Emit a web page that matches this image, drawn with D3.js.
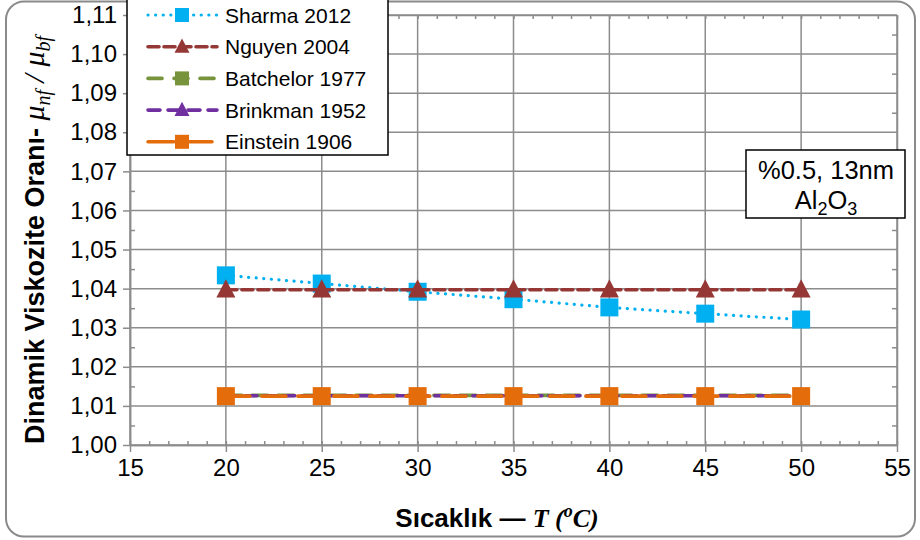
<!DOCTYPE html>
<html>
<head>
<meta charset="utf-8">
<script src="https://cdn.jsdelivr.net/npm/d3@7"></script>
<style>
  html, body { margin: 0; padding: 0; background: #fff; }
  svg { display: block; }
</style>
</head>
<body>
<svg id="chart" width="920" height="540"></svg>
<script>
// ---- data ----
const temps = [20, 25, 30, 35, 40, 45, 50];
const sharma2012 = [1.0434, 1.0413, 1.0392, 1.0373, 1.0352, 1.0336, 1.0321];
const nguyen2004 = [1.0397, 1.0397, 1.0397, 1.0397, 1.0397, 1.0397, 1.0397];
const batchelor1977 = [1.0127, 1.0127, 1.0127, 1.0127, 1.0127, 1.0127, 1.0127];
const brinkman1952 = [1.0126, 1.0126, 1.0126, 1.0126, 1.0126, 1.0126, 1.0126];
const einstein1906 = [1.0125, 1.0125, 1.0125, 1.0125, 1.0125, 1.0125, 1.0125];
const seriesNames = ["Sharma 2012", "Nguyen 2004", "Batchelor 1977", "Brinkman 1952", "Einstein 1906"];
const xTicks = [15, 20, 25, 30, 35, 40, 45, 50, 55];
const yTicks = [1.00, 1.01, 1.02, 1.03, 1.04, 1.05, 1.06, 1.07, 1.08, 1.09, 1.10, 1.11];
const annotationLine1 = "%0.5, 13nm";

// ---- setup ----
const svg = d3.select("#chart");
const L = 130, R = 897, T = 15, B = 445;
const x = d3.scaleLinear().domain([15, 55]).range([L, R]);
const y = d3.scaleLinear().domain([1.00, 1.11]).range([B, T]);
const grid = "#8c8c8c";
const sans = "'Liberation Sans', Arial, sans-serif";
const serif = "'Liberation Serif', 'DejaVu Serif', serif";

// chart area border
svg.append("rect").attr("x", 6).attr("y", 1.5).attr("width", 909).attr("height", 535)
  .attr("rx", 18).attr("fill", "#fff").attr("stroke", "#8a8a8a").attr("stroke-width", 2);

// gridlines
const g = svg.append("g");
g.selectAll("line.h").data(yTicks).join("line")
  .attr("x1", L).attr("x2", R).attr("y1", d => y(d)).attr("y2", d => y(d))
  .attr("stroke", grid).attr("stroke-width", 1.5);
g.selectAll("line.v").data(xTicks).join("line")
  .attr("y1", T).attr("y2", B).attr("x1", d => x(d)).attr("x2", d => x(d))
  .attr("stroke", grid).attr("stroke-width", 1.5);

// axes via d3
const xMinor = d3.range(15, 55.01, 1);
const yMinor = d3.range(1.005, 1.11, 0.01);
function styleAxis(sel) {
  sel.selectAll("path,line").attr("stroke", grid).attr("stroke-width", 1.5);
  sel.selectAll("text").attr("font-family", sans).attr("font-size", 24).attr("fill", "#000");
}
svg.append("g").attr("transform", `translate(0,${B})`)
  .call(d3.axisBottom(x).tickValues(xTicks).tickSize(7).tickSizeOuter(0).tickPadding(7).tickFormat(d3.format("d")))
  .call(styleAxis);
svg.append("g").attr("transform", `translate(0,${B})`)
  .call(d3.axisTop(x).tickValues(xMinor).tickSize(4).tickSizeOuter(0).tickFormat(""))
  .call(styleAxis);
svg.append("g").attr("transform", `translate(0,${T})`)
  .call(d3.axisBottom(x).tickValues(xMinor).tickSize(4).tickSizeOuter(0).tickFormat(""))
  .call(styleAxis);
svg.append("g").attr("transform", `translate(${L},0)`)
  .call(d3.axisLeft(y).tickValues(yTicks).tickSize(7).tickSizeOuter(0).tickPadding(6)
    .tickFormat(d => d3.format(".2f")(d).replace(".", ",")))
  .call(styleAxis);
svg.append("g").attr("transform", `translate(${L},0)`)
  .call(d3.axisRight(y).tickValues(yMinor).tickSize(5).tickSizeOuter(0).tickFormat(""))
  .call(styleAxis);
svg.append("g").attr("transform", `translate(${R},0)`)
  .call(d3.axisLeft(y).tickValues(yMinor).tickSize(5).tickSizeOuter(0).tickFormat(""))
  .call(styleAxis);

// ---- series ----
const styles = [
  { data: sharma2012, color: "#00B0F0", dash: "0.1,7.5", width: 3.2, cap: "round", marker: "square", size: 18 },
  { data: nguyen2004, color: "#953735", dash: "11,5", width: 3.6, cap: "round", marker: "triangle", size: 19 },
  { data: batchelor1977, color: "#77933C", dash: "16,10", width: 3.6, cap: "round", marker: "square", size: 14 },
  { data: brinkman1952, color: "#7030A0", dash: "12,7", width: 3.6, cap: "round", marker: "triangle", size: 15 },
  { data: einstein1906, color: "#E46C0A", dash: "24,12", width: 3.6, cap: "round", marker: "square", size: 18 }
];
const line = d3.line().x((d, i) => x(temps[i])).y(d => y(d));
function drawMarker(sel, type, size, color) {
  if (type === "square") {
    sel.append("rect").attr("x", -size / 2).attr("y", -size / 2).attr("width", size).attr("height", size)
      .attr("fill", color);
  } else {
    const h = size * 0.95;
    sel.append("path").attr("d", `M0,${-h * 0.58} L${size / 2},${h * 0.42} L${-size / 2},${h * 0.42} Z`)
      .attr("fill", color);
  }
}
styles.forEach(s => {
  svg.append("path").datum(s.data).attr("d", line).attr("fill", "none")
    .attr("stroke", s.color).attr("stroke-width", s.width).attr("stroke-dasharray", s.dash)
    .attr("stroke-linecap", s.cap);
  s.data.forEach((v, i) => {
    const m = svg.append("g").attr("transform", `translate(${x(temps[i])},${y(v)})`);
    drawMarker(m, s.marker, s.size, s.color);
  });
});

// ---- legend ----
const lg = svg.append("g");
lg.append("rect").attr("x", 127).attr("y", -2).attr("width", 261).attr("height", 157)
  .attr("fill", "#fff").attr("stroke", "#000").attr("stroke-width", 1.5);
const legendDash = ["0.1,7.5", "11,5", "14,12", "12,8", "26,12"];
styles.forEach((s, i) => {
  const cy = 15 + i * 31.7;
  lg.append("line").attr("x1", 148).attr("x2", 217).attr("y1", cy).attr("y2", cy)
    .attr("stroke", s.color).attr("stroke-width", s.width).attr("stroke-dasharray", legendDash[i])
    .attr("stroke-linecap", s.cap);
  const m = lg.append("g").attr("transform", `translate(182,${cy})`);
  drawMarker(m, s.marker, s.marker === "square" ? 14 : 15, s.color);
  lg.append("text").attr("x", 225).attr("y", cy + 7.5).attr("font-family", sans).attr("font-size", 21)
    .attr("fill", "#000").text(seriesNames[i]);
});

// ---- annotation box ----
const ab = svg.append("g");
ab.append("rect").attr("x", 746).attr("y", 150).attr("width", 159).attr("height", 68)
  .attr("fill", "#fff").attr("stroke", "#000").attr("stroke-width", 1.5);
ab.append("text").attr("x", 826).attr("y", 179).attr("text-anchor", "middle")
  .attr("font-family", sans).attr("font-size", 25.5).text(annotationLine1);
const al = ab.append("text").attr("x", 826).attr("y", 209).attr("text-anchor", "middle")
  .attr("font-family", sans).attr("font-size", 25.5);
al.append("tspan").text("Al");
al.append("tspan").attr("dy", 6).attr("font-size", 18).text("2");
al.append("tspan").attr("dy", -6).text("O");
al.append("tspan").attr("dy", 6).attr("font-size", 18).text("3");

// ---- axis titles ----
const xt = svg.append("text").attr("x", 497).attr("y", 527).attr("text-anchor", "middle")
  .attr("font-family", sans).attr("font-size", 26).attr("font-weight", "bold").attr("fill", "#000");
xt.append("tspan").text("Sıcaklık — ");
xt.append("tspan").attr("font-family", serif).attr("font-style", "italic").text("T (");
xt.append("tspan").attr("font-family", serif).attr("font-style", "italic").attr("font-size", 18).attr("dy", -10).text("o");
xt.append("tspan").attr("font-family", serif).attr("font-style", "italic").attr("dy", 10).text("C)");

const yt = svg.append("text").attr("transform", "translate(44,240) rotate(-90)").attr("text-anchor", "middle")
  .attr("font-family", sans).attr("font-size", 27).attr("font-weight", "bold").attr("fill", "#000");
yt.append("tspan").text("Dinamik Viskozite Oranı- ");
const mu = (sel, txt, fs, dy) => sel.append("tspan").attr("font-family", serif).attr("font-style", "italic")
  .attr("font-weight", "normal").attr("font-size", fs).attr("dy", dy).text(txt);
mu(yt, "μ", 30, 0);
mu(yt, "nf", 20, 6);
mu(yt, " / ", 30, -6);
mu(yt, "μ", 30, 0);
mu(yt, "bf", 20, 6);
</script>
</body>
</html>
